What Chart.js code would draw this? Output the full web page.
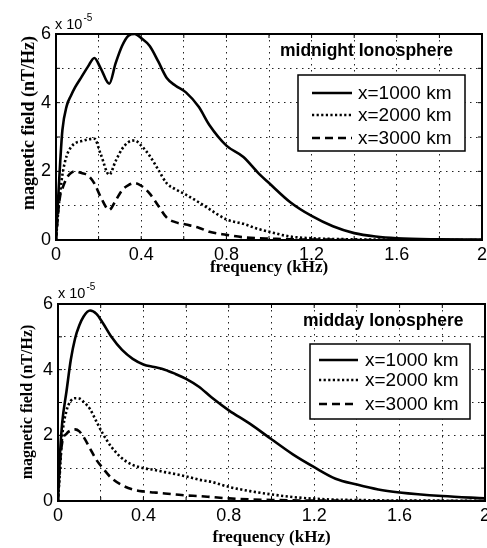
<!DOCTYPE html>
<html>
<head>
<meta charset="utf-8">
<script src="https://cdn.jsdelivr.net/npm/chart.js@4/dist/chart.umd.min.js"></script>
<style>
  html, body { margin: 0; padding: 0; background: #fff; }
  #wrap { position: relative; width: 487px; height: 548px; overflow: hidden; }
  canvas { position: absolute; left: 0; }
  #night { top: 0; }
  #day { top: 274px; }
</style>
</head>
<body>
<div id="wrap">
  <canvas id="night" width="487" height="280"></canvas>
  <canvas id="day" width="487" height="274"></canvas>
</div>
<script>
// values are in units of 1e-5 nT/Hz, frequency in kHz
const seriesLabels = ['x=1000 km', 'x=2000 km', 'x=3000 km'];
const xTickLabels = [0, 0.4, 0.8, 1.2, 1.6, 2];
const yTickLabels = [0, 2, 4, 6];

// midnight ionosphere
const freqNight = [0, 0.01, 0.02, 0.03, 0.05, 0.07, 0.09, 0.12, 0.15, 0.18, 0.21, 0.25, 0.28, 0.31, 0.34, 0.37, 0.40, 0.44, 0.48, 0.52, 0.56, 0.61, 0.67, 0.72, 0.8, 0.88, 0.95, 1.0, 1.1, 1.2, 1.3, 1.4, 1.5, 1.6, 1.8, 2.0];
const night1000 = [0, 1.2, 2.3, 3.2, 3.9, 4.2, 4.45, 4.75, 5.05, 5.3, 5.0, 4.55, 5.15, 5.65, 5.95, 6.0, 5.88, 5.65, 5.2, 4.72, 4.5, 4.3, 3.88, 3.35, 2.75, 2.42, 1.95, 1.66, 1.1, 0.7, 0.4, 0.2, 0.1, 0.05, 0.02, 0.01];
const night2000 = [0, 0.8, 1.4, 1.9, 2.45, 2.7, 2.82, 2.88, 2.93, 2.95, 2.5, 1.9, 2.3, 2.65, 2.85, 2.9, 2.75, 2.45, 2.05, 1.65, 1.48, 1.32, 1.1, 0.9, 0.6, 0.47, 0.32, 0.24, 0.1, 0.05, 0.03, 0.02, 0.01, 0.01, 0, 0];
const night3000 = [0, 0.8, 1.3, 1.5, 1.8, 1.95, 2.0, 1.95, 1.88, 1.65, 1.25, 0.88, 1.15, 1.45, 1.6, 1.66, 1.58, 1.35, 1.0, 0.65, 0.52, 0.45, 0.36, 0.24, 0.15, 0.08, 0.05, 0.04, 0.02, 0.01, 0.01, 0, 0, 0, 0, 0];

// midday ionosphere
const freqDay = [0, 0.01, 0.02, 0.04, 0.06, 0.08, 0.1, 0.12, 0.15, 0.18, 0.21, 0.25, 0.3, 0.35, 0.4, 0.45, 0.5, 0.55, 0.6, 0.66, 0.72, 0.8, 0.9, 1.0, 1.1, 1.2, 1.3, 1.4, 1.5, 1.6, 1.8, 2.0];
const day1000 = [0, 1.5, 2.4, 3.35, 4.3, 4.95, 5.35, 5.62, 5.8, 5.7, 5.42, 5.0, 4.6, 4.33, 4.16, 4.08, 4.0, 3.87, 3.72, 3.48, 3.15, 2.76, 2.35, 1.88, 1.42, 1.03, 0.68, 0.5, 0.35, 0.26, 0.15, 0.08];
const day2000 = [0, 1.0, 2.0, 2.75, 3.05, 3.13, 3.12, 3.02, 2.8, 2.42, 2.05, 1.65, 1.3, 1.1, 1.0, 0.95, 0.88, 0.82, 0.75, 0.65, 0.58, 0.43, 0.3, 0.2, 0.12, 0.07, 0.04, 0.03, 0.02, 0.01, 0.01, 0];
const day3000 = [0, 1.2, 1.8, 2.05, 2.15, 2.18, 2.12, 1.95, 1.6, 1.25, 1.0, 0.7, 0.48, 0.35, 0.29, 0.26, 0.23, 0.2, 0.17, 0.15, 0.12, 0.08, 0.05, 0.03, 0.02, 0.01, 0.01, 0, 0, 0, 0, 0];

const lineStyles = [
  { borderWidth: 2.6, borderDash: [] },
  { borderWidth: 2.6, borderDash: [2.2, 2.4] },
  { borderWidth: 2.6, borderDash: [8, 5] }
];

// draws frame, inner tick marks, legend box, panel title, y title, exponent
const decor = {
  id: 'decor',
  afterDraw(chart, args, o) {
    const ctx = chart.ctx;
    const a = chart.chartArea;
    const xs = chart.scales.x, ys = chart.scales.y;
    ctx.save();
    ctx.strokeStyle = '#000';
    ctx.setLineDash([]);

    // small ticks on all four sides
    ctx.lineWidth = 1;
    ctx.beginPath();
    xs.ticks.forEach(t => {
      const p = xs.getPixelForValue(t.value);
      ctx.moveTo(p, a.bottom); ctx.lineTo(p, a.bottom - 4);
      ctx.moveTo(p, a.top); ctx.lineTo(p, a.top + 4);
    });
    ys.ticks.forEach(t => {
      const p = ys.getPixelForValue(t.value);
      ctx.moveTo(a.left, p); ctx.lineTo(a.left + 4, p);
      ctx.moveTo(a.right, p); ctx.lineTo(a.right - 4, p);
    });
    ctx.stroke();

    ctx.lineWidth = 2;
    ctx.strokeRect(a.left, a.top, a.right - a.left, a.bottom - a.top);

    // panel title
    ctx.fillStyle = '#000';
    ctx.font = 'bold 17.5px "Liberation Sans", Arial, sans-serif';
    ctx.textBaseline = 'middle';
    ctx.textAlign = 'left';
    ctx.fillText(o.title, o.titleX, o.titleY);

    // legend
    const [bx, by, bw, bh] = o.box;
    ctx.fillStyle = '#fff';
    ctx.fillRect(bx, by, bw, bh);
    ctx.lineWidth = 1.5;
    ctx.strokeRect(bx, by, bw, bh);
    ctx.font = '19px "Liberation Sans", Arial, sans-serif';
    chart.data.datasets.forEach((ds, i) => {
      const y = o.rowsY[i];
      ctx.lineWidth = ds.borderWidth;
      ctx.setLineDash(ds.borderDash);
      ctx.beginPath();
      ctx.moveTo(o.lineX[0], y);
      ctx.lineTo(o.lineX[1], y);
      ctx.stroke();
      ctx.setLineDash([]);
      ctx.fillStyle = '#000';
      ctx.fillText(ds.label, o.textX, y + 1);
    });

    // exponent
    ctx.font = '14.5px "Liberation Sans", Arial, sans-serif';
    ctx.textBaseline = 'alphabetic';
    ctx.fillText('x 10', o.expX, o.expY);
    const w = ctx.measureText('x 10').width;
    ctx.font = '10px "Liberation Sans", Arial, sans-serif';
    ctx.fillText('-5', o.expX + w + 1, o.expY - 8);

    // y title
    ctx.translate(o.ylabX, o.ylabY);
    ctx.rotate(-Math.PI / 2);
    ctx.font = 'bold ' + o.ylabSize + 'px "Liberation Serif", "Times New Roman", serif';
    ctx.textAlign = 'center';
    ctx.textBaseline = 'middle';
    ctx.fillText('magnetic field (nT/Hz)', 0, 0);
    ctx.restore();
  }
};

function makeChart(id, freqs, series, p) {
  const datasets = series.map((vals, i) => ({
    label: seriesLabels[i],
    data: freqs.map((f, k) => ({ x: f, y: vals[k] })),
    borderColor: '#000',
    borderWidth: lineStyles[i].borderWidth,
    borderDash: lineStyles[i].borderDash,
    borderCapStyle: 'butt',
    pointRadius: 0,
    fill: false,
    cubicInterpolationMode: 'monotone'
  }));
  const tickFont = { family: '"Liberation Sans", Arial, sans-serif', size: 18 };
  return new Chart(document.getElementById(id), {
    type: 'line',
    data: { datasets },
    options: {
      responsive: false,
      animation: false,
      layout: { padding: { left: 0, top: p.top, right: p.right, bottom: p.padBottom } },
      plugins: { legend: { display: false }, tooltip: { enabled: false }, decor: p.decor },
      scales: {
        x: {
          type: 'linear', min: 0, max: 2,
          grid: { color: '#222', lineWidth: 1, drawTicks: false },
          border: { display: false, dash: [1.5, 4.5] },
          ticks: {
            stepSize: 0.2, color: '#000', font: tickFont, padding: p.xPad, maxRotation: 0, autoSkip: false,
            callback: v => xTickLabels.includes(Math.round(v * 10) / 10) ? String(Math.round(v * 10) / 10) : ''
          },
          title: {
            display: true, text: 'frequency (kHz)', color: '#000',
            font: { family: '"Liberation Serif", "Times New Roman", serif', size: 17, weight: 'bold', lineHeight: 1 },
            padding: 0
          },
          afterFit: s => { s.height = p.xHeight; s.paddingLeft = 0; s.paddingRight = 0; }
        },
        y: {
          min: 0, max: 6,
          grid: { color: '#222', lineWidth: 1, drawTicks: false },
          border: { display: false, dash: [1.5, 4.5] },
          ticks: {
            stepSize: 1, color: '#000', font: tickFont, padding: 5,
            callback: v => yTickLabels.includes(v) ? String(v) : ''
          },
          afterFit: s => { s.width = p.yWidth; s.paddingTop = 0; s.paddingBottom = 0; }
        }
      }
    },
    plugins: [decor]
  });
}

makeChart('night', freqNight, [night1000, night2000, night3000], {
  top: 34, right: 5, padBottom: 3.5, xHeight: 36.5, yWidth: 56, xPad: 4,
  decor: {
    title: 'midnight Ionosphere', titleX: 280, titleY: 51,
    box: [298, 75, 167, 76], lineX: [312, 352], rowsY: [93, 115, 138], textX: 358,
    expX: 55, expY: 29, ylabX: 29, ylabY: 123, ylabSize: 18
  }
});

makeChart('day', freqDay, [day1000, day2000, day3000], {
  top: 30, right: 2, padBottom: 2, xHeight: 45, yWidth: 58, xPad: 4,
  decor: {
    title: 'midday Ionosphere', titleX: 303, titleY: 47,
    box: [310, 70, 160, 75], lineX: [319, 358], rowsY: [86, 106, 130], textX: 365,
    expX: 58, expY: 24, ylabX: 28, ylabY: 128, ylabSize: 16
  }
});
</script>
</body>
</html>
